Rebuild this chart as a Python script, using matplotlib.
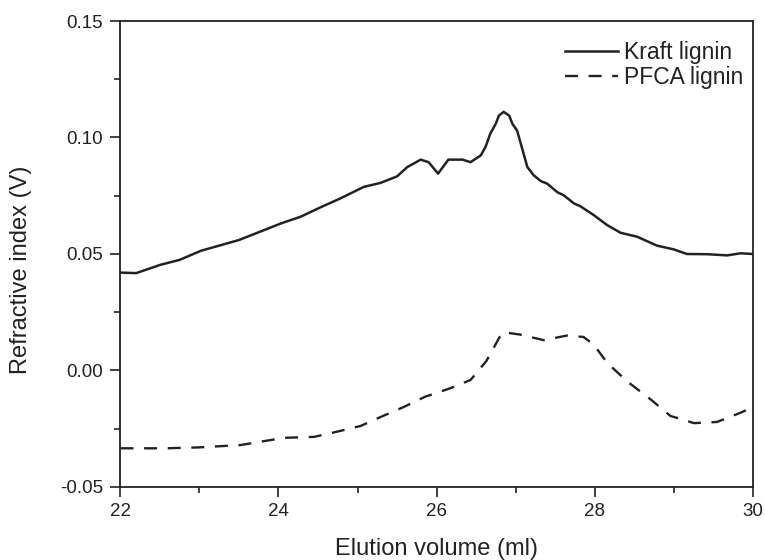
import matplotlib
matplotlib.use("Agg")
import matplotlib.pyplot as plt
from matplotlib.ticker import MultipleLocator, FormatStrFormatter

plt.rcParams['font.family'] = ['Liberation Sans', 'DejaVu Sans']

# Elution volume (ml) and refractive index signal (V)
kraft_volume = [22.00, 22.20, 22.50, 22.75, 23.02, 23.50, 24.03, 24.28, 24.53, 24.78,
                25.08, 25.29, 25.50, 25.63, 25.80, 25.90, 26.02, 26.15, 26.33, 26.43,
                26.56, 26.62, 26.68, 26.75, 26.79, 26.85, 26.92, 26.96, 27.02, 27.15,
                27.23, 27.32, 27.40, 27.53, 27.61, 27.74, 27.82, 27.99, 28.16, 28.33,
                28.54, 28.79, 29.00, 29.17, 29.43, 29.68, 29.85, 30.00]
kraft_signal = [0.0420, 0.0418, 0.0453, 0.0475, 0.0514, 0.0560, 0.0631, 0.0660, 0.0700, 0.0738,
                0.0788, 0.0805, 0.0833, 0.0873, 0.0905, 0.0894, 0.0845, 0.0905, 0.0905, 0.0894,
                0.0923, 0.0959, 0.1016, 0.1059, 0.1094, 0.1110, 0.1094, 0.1059, 0.1030, 0.0873,
                0.0838, 0.0813, 0.0802, 0.0765, 0.0752, 0.0717, 0.0705, 0.0667, 0.0624, 0.0591,
                0.0574, 0.0536, 0.0520, 0.0500, 0.0499, 0.0494, 0.0503, 0.0500]

pfca_volume = [22.00, 22.57, 23.00, 23.52, 24.07, 24.45, 24.70, 25.04, 25.29, 25.57,
               25.86, 26.16, 26.43, 26.63, 26.80, 26.85, 27.06, 27.36, 27.65, 27.86,
               27.99, 28.16, 28.41, 28.71, 28.96, 29.26, 29.55, 29.85, 30.00]
pfca_signal = [-0.0334, -0.0334, -0.0330, -0.0320, -0.0289, -0.0285, -0.0266, -0.0238, -0.0200, -0.0159,
               -0.0112, -0.0078, -0.0041, 0.0040, 0.0144, 0.0164, 0.0154, 0.0130, 0.0150, 0.0144,
               0.0111, 0.0033, -0.0046, -0.0124, -0.0195, -0.0226, -0.0221, -0.0181, -0.0158]

ink = '#222222'

fig = plt.figure(figsize=(7.65, 5.6), dpi=100)
ax = fig.add_axes([0.1575, 0.1304, 0.8262, 0.8321])

ax.plot(kraft_volume, kraft_signal, color=ink, lw=1.8, label='Kraft lignin',
        solid_joinstyle='round')
ax.plot(pfca_volume, pfca_signal, color=ink, lw=1.7, ls=(0, (5.5, 4.5)),
        label='PFCA lignin')

ax.set_xlim(22, 30)
ax.set_ylim(-0.05, 0.15)
ax.xaxis.set_major_locator(MultipleLocator(2))
ax.xaxis.set_minor_locator(MultipleLocator(1))
ax.yaxis.set_major_locator(MultipleLocator(0.05))
ax.yaxis.set_minor_locator(MultipleLocator(0.025))
ax.yaxis.set_major_formatter(FormatStrFormatter('%.2f'))

ax.tick_params(which='both', direction='out', colors=ink, width=1.2,
               top=False, right=False, labelsize=13.5)
ax.tick_params(which='major', length=7)
ax.tick_params(which='minor', length=4.5)
ax.tick_params(axis='x', which='major', pad=4.5)
ax.tick_params(axis='y', which='major', pad=5.5)
for s in ax.spines.values():
    s.set_color(ink)
    s.set_linewidth(1.3)

ax.set_xlabel('Elution volume (ml)', fontsize=17, color=ink, labelpad=13)
ax.set_ylabel('Refractive index (V)', fontsize=17, color=ink)
ax.yaxis.set_label_coords(-0.140, 0.465)

leg = ax.legend(loc='upper right', bbox_to_anchor=(0.985, 0.958), frameon=False,
                fontsize=16.5, handlelength=2.3, handletextpad=0.25,
                labelspacing=0.12, borderpad=0, borderaxespad=0)
for t in leg.get_texts():
    t.set_color(ink)

fig.savefig('out.png', dpi=100, facecolor='white')
